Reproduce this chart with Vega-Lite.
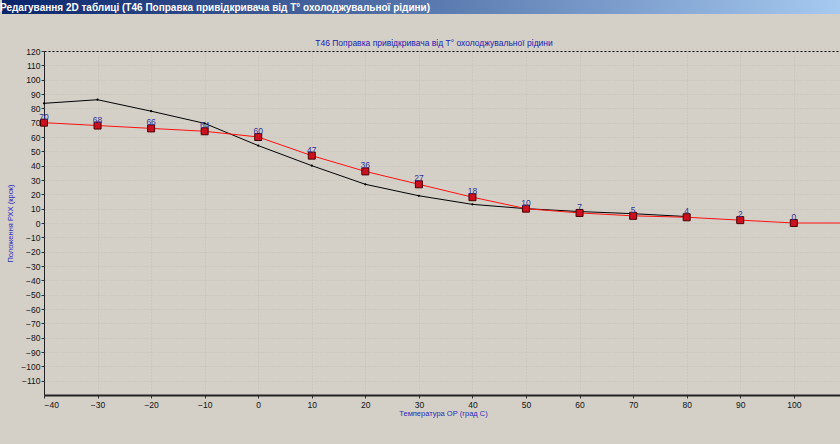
{
  "$schema": "https://vega.github.io/schema/vega-lite/v6.json",
  "background": "#d4d0c8",
  "padding": {"left": 0, "top": 0, "right": 0, "bottom": 27},
  "spacing": 24,
  "config": {
    "font": "Liberation Sans",
    "view": {"stroke": null},
    "axis": {"labelFont": "Liberation Sans", "titleFont": "Liberation Sans"}
  },
  "vconcat": [
    {
      "width": 840,
      "height": 14,
      "data": {"values": [{"bar": "Редагування 2D таблиці (T46 Поправка привідкривача від T° охолоджувальної рідини)"}]},
      "layer": [
        {
          "mark": {
            "type": "rect",
            "color": {
              "gradient": "linear",
              "x1": 0, "y1": 0, "x2": 1, "y2": 0,
              "stops": [
                {"offset": 0, "color": "#0a246a"},
                {"offset": 1, "color": "#a6caf0"}
              ]
            }
          },
          "encoding": {}
        },
        {
          "mark": {"type": "text", "align": "left", "baseline": "middle", "dx": -422, "dy": 0.5,
                   "color": "#ffffff", "font": "Liberation Sans", "fontSize": 10, "fontWeight": "bold"},
          "encoding": {"text": {"field": "bar"}}
        }
      ]
    },
    {
      "width": 840,
      "height": 344,
      "title": {
        "text": "T46 Поправка привідкривача від T° охолоджувальної рідини",
        "font": "Liberation Sans",
        "fontSize": 8.5,
        "fontWeight": "normal",
        "color": "#2020b0",
        "anchor": "middle",
        "dx": 12,
        "offset": 0
      },
      "data": {
        "values": [
          {"s": "r", "t": -40, "v": 70},
          {"s": "r", "t": -30, "v": 68},
          {"s": "r", "t": -20, "v": 66},
          {"s": "r", "t": -10, "v": 64},
          {"s": "r", "t": 0, "v": 60},
          {"s": "r", "t": 10, "v": 47},
          {"s": "r", "t": 20, "v": 36},
          {"s": "r", "t": 30, "v": 27},
          {"s": "r", "t": 40, "v": 18},
          {"s": "r", "t": 50, "v": 10},
          {"s": "r", "t": 60, "v": 7},
          {"s": "r", "t": 70, "v": 5},
          {"s": "r", "t": 80, "v": 4},
          {"s": "r", "t": 90, "v": 2},
          {"s": "r", "t": 100, "v": 0},
          {"s": "r", "t": 110, "v": 0},
          {"s": "b", "t": -40, "v": 83.5},
          {"s": "b", "t": -30, "v": 86},
          {"s": "b", "t": -20, "v": 78},
          {"s": "b", "t": -10, "v": 69.5},
          {"s": "b", "t": 0, "v": 54},
          {"s": "b", "t": 10, "v": 40},
          {"s": "b", "t": 20, "v": 27},
          {"s": "b", "t": 30, "v": 19},
          {"s": "b", "t": 40, "v": 13},
          {"s": "b", "t": 50, "v": 10},
          {"s": "b", "t": 60, "v": 8},
          {"s": "b", "t": 70, "v": 6.5},
          {"s": "b", "t": 80, "v": 4.5}
        ]
      },
      "encoding": {
        "x": {
          "field": "t",
          "type": "quantitative",
          "scale": {"domain": [-40, 109], "range": [42, 840], "nice": false, "zero": false},
          "axis": {
            "values": [-40, -30, -20, -10, 0, 10, 20, 30, 40, 50, 60, 70, 80, 90, 100],
            "title": "Температура ОР (град С)",
            "titleFontSize": 7.5,
            "titleFontWeight": "normal",
            "titleColor": "#2a2ab8",
            "titlePadding": 1,
            "labelFontSize": 8.5,
            "labelColor": "#111111",
            "labelPadding": 2,
            "tickSize": 3,
            "tickColor": "#333333",
            "domainColor": "#222222",
            "domainWidth": 2,
            "grid": true,
            "gridColor": "#c4c0b8",
            "gridDash": [1, 2]
          }
        },
        "y": {
          "field": "v",
          "type": "quantitative",
          "scale": {"domain": [-120, 120], "nice": false, "zero": false},
          "axis": {
            "values": [-110, -100, -90, -80, -70, -60, -50, -40, -30, -20, -10, 0, 10, 20, 30, 40, 50, 60, 70, 80, 90, 100, 110, 120],
            "offset": -42,
            "title": "Положення РХХ (крок)",
            "titleFontSize": 7.5,
            "titleFontWeight": "normal",
            "titleColor": "#2a2ab8",
            "titlePadding": 6,
            "labelFontSize": 8.5,
            "labelColor": "#111111",
            "labelPadding": 1,
            "tickSize": 3,
            "tickColor": "#333333",
            "domainColor": "#222222",
            "grid": true,
            "gridColor": {"condition": {"test": "datum.value === 120", "value": "#000000"}, "value": "#c4c0b8"},
            "gridDash": {"condition": {"test": "datum.value === 120", "value": [2, 2]}, "value": [1, 2]}
          }
        }
      },
      "layer": [
        {
          "transform": [{"filter": "datum.s === 'b'"}],
          "mark": {"type": "line", "color": "#000000", "strokeWidth": 1, "clip": true,
                   "point": {"filled": true, "size": 5, "color": "#000000"}}
        },
        {
          "transform": [{"filter": "datum.s === 'r'"}],
          "mark": {"type": "line", "color": "#ff1010", "strokeWidth": 1, "clip": true}
        },
        {
          "transform": [{"filter": "datum.s === 'r'"}],
          "mark": {"type": "square", "filled": true, "size": 49, "fill": "#cc1020", "stroke": "#4a0000", "strokeWidth": 1, "opacity": 1, "clip": true}
        },
        {
          "transform": [{"filter": "datum.s === 'r' && datum.t <= 100"}],
          "mark": {"type": "text", "fontSize": 8.5, "color": "#30309a", "dy": -6, "clip": true},
          "encoding": {"text": {"field": "v", "type": "quantitative"}}
        }
      ]
    }
  ]
}
